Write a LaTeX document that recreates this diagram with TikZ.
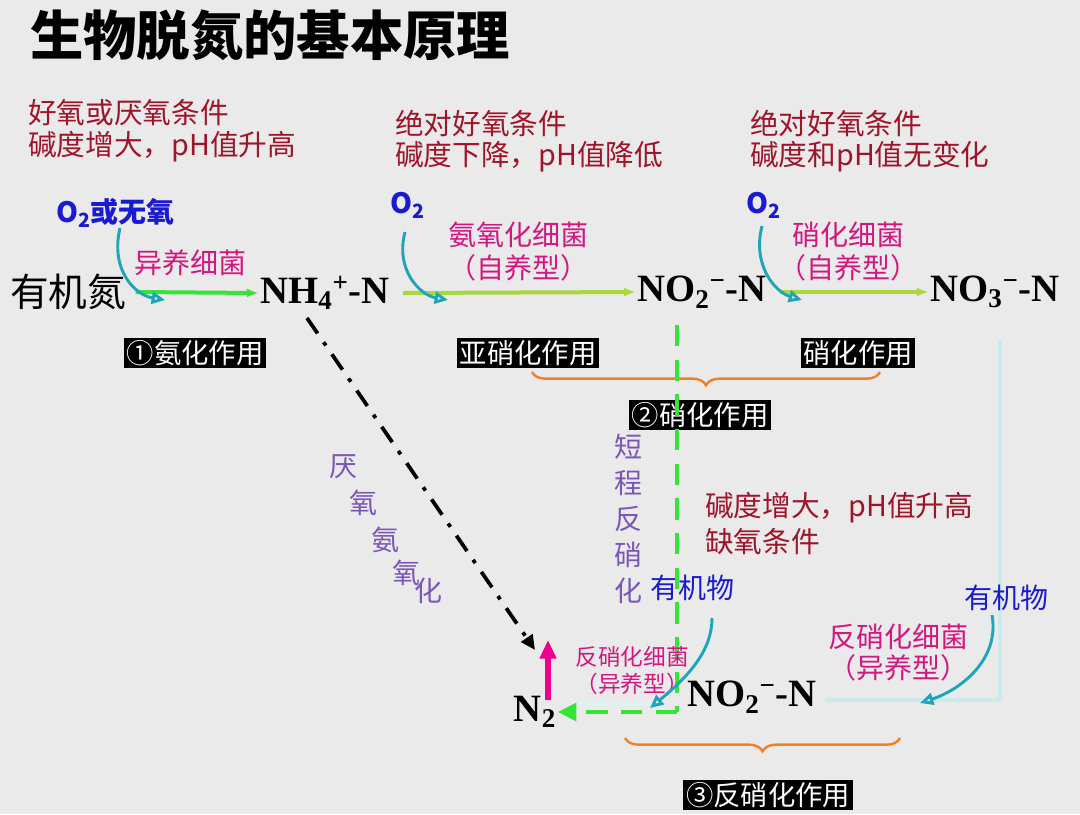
\documentclass[tikz,border=0pt]{standalone}
\usepackage{fontspec}
\setmainfont{Liberation Serif}
\newfontfamily\cjk{Noto Sans CJK SC}
\usetikzlibrary{arrows.meta,decorations.pathreplacing}
\definecolor{bg}{HTML}{EAEAEA}
\definecolor{dred}{HTML}{A0142A}
\definecolor{dblue}{HTML}{1A1AD0}
\definecolor{mag}{HTML}{D4177F}
\definecolor{cyanA}{HTML}{1EA5B9}
\definecolor{grn}{HTML}{33E633}
\definecolor{ygrn}{HTML}{A8D83A}
\definecolor{orng}{HTML}{F07F2A}
\definecolor{purp}{HTML}{7B56B8}
\definecolor{lcyan}{HTML}{C8ECEC}
\begin{document}
\begin{tikzpicture}[x=0.75pt,y=-0.75pt,
  red/.style={text=dred,font=\cjk\fontsize{21.5}{24}\selectfont,anchor=west,inner sep=0pt},
  blu/.style={text=dblue,font=\cjk\fontsize{21}{24}\selectfont,inner sep=0pt},
  mg/.style={text=mag,font=\cjk\fontsize{21}{24}\selectfont,inner sep=0pt},
  mgs/.style={text=mag,font=\cjk\fontsize{17}{19}\selectfont,inner sep=0pt},
  chem/.style={font=\bfseries\fontsize{29}{32}\selectfont,inner sep=1pt},
  lab/.style={fill=black,text=white,font=\cjk\fontsize{20.5}{22}\selectfont,inner sep=2pt},
  pu/.style={text=purp,font=\cjk\fontsize{21}{23}\selectfont,inner sep=0pt},
  cy/.style={cyanA,line width=2.2pt,-{Triangle[open,length=10pt,width=9pt]}},
  br/.style={orng,line width=1.8pt,decorate,decoration={brace,amplitude=10pt,mirror}}]
\fill[bg] (0,0) rectangle (1080,814);
\draw[lcyan,line width=3pt] (1000,340) -- (1000,700) -- (825,700);
\draw[lcyan!60,line width=3pt] (655,703) -- (575,703);
\node[anchor=west,font=\cjk\bfseries\fontsize{40}{44}\selectfont,inner sep=0pt] (title) at (30,35) {生物脱氮的基本原理};
\node[red] (r1) at (28,113) {好氧或厌氧条件};
\node[red] (r2) at (28,147) {碱度增大，pH值升高};
\node[red] (r3) at (395,123) {绝对好氧条件};
\node[red] (r4) at (395,157) {碱度下降，pH值降低};
\node[red] (r5) at (750,123) {绝对好氧条件};
\node[red] (r6) at (750,157) {碱度和pH值无变化};
\node[blu,anchor=west] (o1) at (56,213) {\bfseries O\textsubscript{2}\cjk 或无氧};
\node[blu] (o2) at (408,205) {\bfseries O\textsubscript{2}};
\node[blu] (o3) at (764,205) {\bfseries O\textsubscript{2}};
\node[mg] (b1) at (190,263) {异养细菌};
\node[mg] (b2) at (518,235) {氨氧化细菌};
\node[mg] (b3) at (518,268) {（自养型）};
\node[mg] (b4) at (848,235) {硝化细菌};
\node[mg] (b5) at (848,268) {（自养型）};
\node[font=\cjk\fontsize{29}{32}\selectfont,inner sep=1pt] (org) at (68,292) {有机氮};
\node[chem] (nh4) at (325,293) {NH\textsubscript{4}\textsuperscript{+}-N};
\node[chem] (no2) at (702,292) {NO\textsubscript{2}\textsuperscript{−}-N};
\node[chem] (no3) at (995,292) {NO\textsubscript{3}\textsuperscript{−}-N};
\draw[grn,line width=3pt,-{Latex[length=9pt]}] (org.east)++(8,0) -- (nh4.west);
\draw[ygrn,line width=3pt,-{Latex[length=9pt]}] (nh4.east)++(12,0) -- (no2.west);
\draw[ygrn,line width=3pt,-{Latex[length=9pt]}] (no2.east)++(12,0) -- (no3.west);
\draw[cy] (120,228) .. controls (110,270) and (135,295) .. (165,300);
\draw[cy] (405,232) .. controls (395,270) and (420,295) .. (448,300);
\draw[cy] (762,226) .. controls (752,265) and (775,292) .. (802,300);
\node[lab] (l1) at (195,353) {①氨化作用};
\node[lab] (l2) at (528,353) {亚硝化作用};
\node[lab] (l3) at (858,353) {硝化作用};
\draw[br] (532,372) -- (880,372);
\node[lab] (l4) at (700,415) {②硝化作用};
\node[pu] at (628,447) {短};
\node[pu] at (628,483) {程};
\node[pu] at (628,519) {反};
\node[pu] at (628,555) {硝};
\node[pu] at (628,591) {化};
\node[red] (r7) at (705,508) {碱度增大，pH值升高};
\node[red] (r8) at (705,542) {缺氧条件};
\node[blu] (m1) at (692,588) {有机物};
\node[blu] (m2) at (1006,598) {有机物};
\node[chem] (n2) at (535,712) {N\textsubscript{2}};
\node[chem] (no2b) at (752,697) {NO\textsubscript{2}\textsuperscript{−}-N};
\coordinate (cor) at (677,712);
\coordinate (dd) at (535,650);
\draw[grn,line width=3.5pt,dash pattern=on 16pt off 10pt] (677,325) -- (cor);
\draw[grn,line width=3.5pt,dash pattern=on 16pt off 10pt,-{Triangle[length=14pt,width=13pt]}] (cor) -- (n2.east);
\draw[magenta,line width=4pt,-{Triangle[length=14pt,width=12pt]}] (548,700) -- (548,640);
\node[mgs] (d1) at (632,657) {反硝化细菌};
\node[mgs] (d2) at (632,684) {（异养型）};
\node[mg] (d3) at (898,637) {反硝化细菌};
\node[mg] (d4) at (898,668) {（异养型）};
\draw[cy] (712,618) .. controls (712,650) and (690,675) .. (650,708);
\draw[cy] (992,615) .. controls (1000,660) and (960,690) .. (920,703);
\draw[black,line width=2.8pt,dash pattern=on 14pt off 8pt on 3pt off 8pt,-{Triangle[length=11pt,width=10pt]}] (307,318) -- (dd);
\node[pu] at (343,467) {厌};
\node[pu] at (363,503) {氧};
\node[pu] at (385,540) {氨};
\node[pu] at (406,573) {氧};
\node[pu] at (428,591) {化};
\draw[br] (625,738) -- (900,738);
\node[lab] (l5) at (768,795) {③反硝化作用};
\end{tikzpicture}
\end{document}
